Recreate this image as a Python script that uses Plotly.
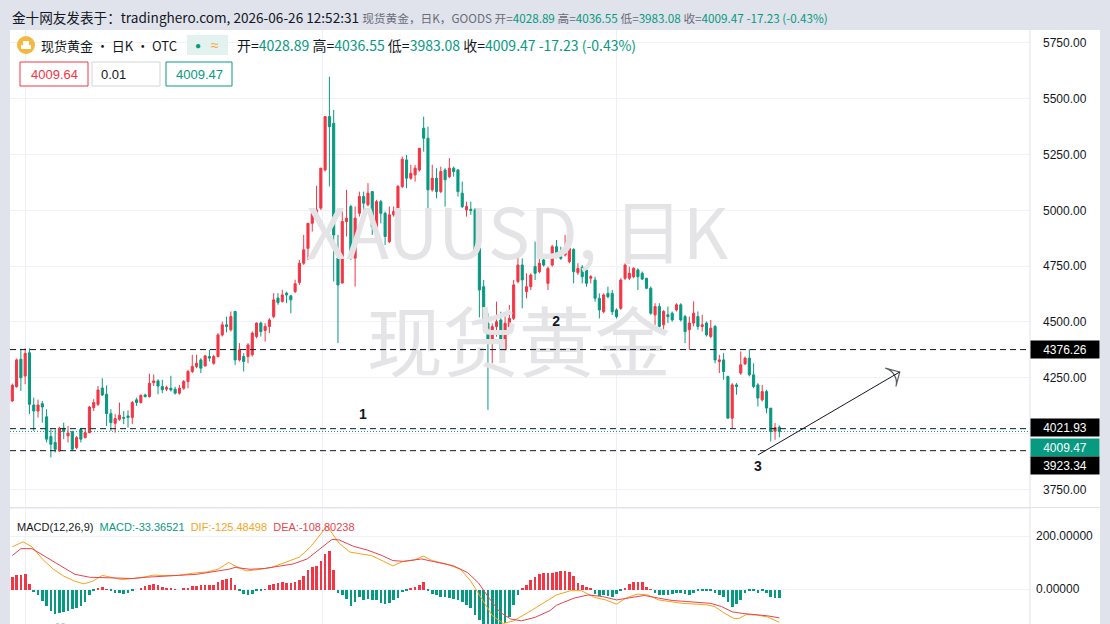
import plotly.graph_objects as go

RED = "#f23645"
GREEN = "#089981"
TXT = "#131722"

# ---------------- data ----------------
OPEN = [4146,4210,4333,4258,4362,4128,4101,4134,4075,3987,3960,3922,4024,3990,4008,3937,4019,3982,4004,4116,
        4131,4204,4176,4089,4046,4064,4072,4079,4072,4151,4139,4173,4166,4228,4236,4211,4199,4203,4199,4181,
        4203,4233,4278,4300,4330,4303,4345,4315,4345,4442,4487,4465,4547,4330,4345,4345,4353,4435,4495,4462,
        4480,4524,4607,4592,4629,4617,4636,4677,4763,4830,4942,4987,5010,5181,5420,5390,4786,4674,4950,5017,
        4786,4987,5062,5025,5084,4927,5039,4987,4860,4980,4995,5107,5226,5144,5159,5181,5368,5323,5092,5144,
        5084,5181,5151,5189,5181,5077,5002,5005,5002,4830,4658,4494,4412,4479,4509,4375,4479,4516,4681,4755,
        4636,4658,4748,4725,4778,4673,4755,4837,4793,4800,4770,4825,4721,4745,4733,4696,4688,4606,4546,4628,
        4628,4554,4561,4696,4696,4703,4733,4718,4696,4651,4532,4569,4487,4532,4539,4554,4577,4524,4465,4495,
        4524,4480,4495,4435,4480,4323,4330,4256,4069,4218,4271,4312,4338,4263,4218,4151,4188,4114,4010,4028.89]
HIGH = [4224,4336,4380,4382,4382,4161,4152,4146,4109,4019,4019,4030,4049,4034,4012,3990,4022,4022,4124,4154,
        4213,4248,4216,4109,4087,4139,4101,4104,4146,4161,4176,4179,4268,4265,4243,4241,4215,4259,4210,4218,
        4240,4286,4353,4353,4338,4353,4375,4353,4450,4502,4524,4547,4549,4405,4360,4405,4457,4498,4502,4495,
        4517,4629,4629,4644,4636,4621,4689,4778,4890,4942,4995,5110,5189,5420,5599,5450,4890,4995,5092,5025,
        5017,5084,5084,5122,5084,5047,5047,4995,5017,5017,5114,5241,5248,5204,5204,5278,5420,5375,5204,5189,
        5196,5189,5234,5196,5184,5129,5039,5039,5010,4867,4688,4539,4494,4591,4546,4539,4576,4688,4793,4785,
        4718,4718,4860,4785,4800,4748,4845,4867,4837,4890,4837,4830,4763,4755,4740,4710,4703,4628,4628,4658,
        4643,4561,4696,4763,4748,4745,4740,4726,4696,4659,4584,4584,4554,4569,4547,4584,4584,4532,4524,4592,
        4547,4532,4502,4509,4487,4353,4360,4259,4226,4226,4368,4345,4378,4315,4226,4218,4196,4114,4047,4036.55]
LOW = [4142,4206,4191,4221,4087,4012,4072,4049,3960,3893,3915,3918,3975,3960,3925,3930,3960,3978,4002,4101,
       4124,4168,4034,4012,4004,4057,4042,4027,4042,4124,4134,4161,4161,4213,4176,4181,4190,4188,4175,4174,
       4196,4203,4271,4293,4271,4300,4323,4308,4341,4435,4453,4457,4308,4323,4278,4315,4345,4427,4435,4412,
       4450,4517,4577,4587,4584,4539,4629,4666,4756,4778,4905,4980,5002,5174,5107,4681,4405,4674,4883,4778,
       4659,4972,4987,5017,4890,4890,4942,4845,4853,4972,4987,5099,5099,5137,5129,5174,5263,4995,5084,5054,
       5077,5017,5144,5151,5062,5010,4972,4980,4808,4520,4479,4106,4315,4434,4360,4372,4472,4509,4673,4561,
       4606,4643,4688,4718,4748,4643,4748,4785,4778,4793,4763,4673,4710,4673,4658,4673,4591,4516,4539,4606,
       4531,4516,4554,4688,4688,4696,4643,4689,4647,4532,4487,4465,4457,4495,4502,4547,4502,4405,4375,4480,
       4465,4457,4435,4427,4315,4271,4241,4069,4024,4174,4263,4308,4256,4203,4121,4144,4091,3965,3972,3983.08]
CLOSE = [4216,4330,4250,4359,4131,4101,4128,4119,3975,3952,3930,4024,4009,4002,3930,3982,3975,4004,4119,4139,
         4195,4173,4089,4049,4067,4082,4069,4072,4139,4139,4171,4166,4225,4236,4213,4196,4206,4196,4181,4203,
         4233,4278,4300,4315,4293,4348,4338,4345,4442,4487,4480,4524,4330,4375,4323,4397,4450,4495,4457,4480,
         4509,4599,4587,4621,4621,4599,4671,4763,4823,4942,4987,5002,5189,5420,5375,4890,4666,4950,4965,4786,
         4965,5062,5032,5077,4927,5039,4987,4883,4980,4995,5107,5229,5144,5166,5189,5278,5323,5092,5144,5084,
         5174,5137,5189,5174,5084,5017,5017,4999,4816,4643,4494,4404,4479,4501,4375,4494,4516,4666,4755,4688,
         4658,4710,4718,4763,4755,4740,4837,4793,4785,4830,4830,4725,4740,4703,4673,4703,4606,4554,4621,4613,
         4546,4524,4688,4755,4718,4740,4703,4692,4651,4539,4569,4480,4547,4524,4509,4577,4509,4457,4495,4539,
         4480,4487,4442,4472,4330,4330,4278,4069,4218,4211,4308,4338,4263,4211,4159,4188,4114,4009,4026.7,4009.47]

MACD_HIST = [49,56,56,59,23,-9,-22,-42,-61,-80,-94,-87,-84,-80,-74,-70,-62,-45,-22,-5,
             5,10,2,-6,-11,-11,-16,-11,-3,0,4,12,19,20,17,10,7,4,2,0,
             3,8,13,15,17,17,17,17,30,36,40,43,17,-6,-16,-22,-16,-6,-2,1,
             17,20,26,27,25,24,28,35,52,76,85,90,110,134,147,75,-12,-22,-35,-61,
             -48,-28,-40,-35,-38,-41,-50,-54,-50,-40,-30,-10,-2,4,10,17,30,-2,-16,-22,
             -28,-28,-32,-35,-40,-47,-58,-68,-95,-115,-130,-137,-140,-137,-133,-125,-103,-60,-21,6,
             17,36,49,58,62,62,62,68,70,70,68,52,26,18,9,4,-15,-23,-22,-24,
             -29,-15,-5,6,20,29,29,27,10,1,-11,-22,-19,-22,-17,-11,-13,-15,-19,-11,
             -6,-6,-3,-6,-11,-22,-28,-47,-66,-54,-41,-11,-6,-6,-11,-6,-11,-28,-32,-33.37]

DIF_X = [0,2.5,4.6,7,9.6,12,14.6,16.7,18.8,21,23,25.5,28,30.5,33,35.5,38.8,42,45.5,48,
         50.5,52,54.6,57,60.5,63.8,67,69.6,72,73.4,74.6,76.3,78.8,81.3,83.8,86.3,88.8,91.3,93.8,95.9,
         98,101.3,104.6,107,109.6,112,114.6,117,120.5,123.8,127,130.3,132.8,136,138.5,141,143.4,145.9,148.3,150.8,
         153.2,156.5,159.8,162.2,163.9,166.3,168.4,169.6,171.3,173.7,176.2,179]
DIF_Y = [160,179,160,114,75,49,30,20,30,52,45,36,40,45,53,51,52,60,65,75,
         101,88,69,73,82,101,121,160,212,238,212,173,140,134,127,108,88,105,110,125,
         108,95,75,30,-35,-100,-130,-120,-87,-55,-22,-6,-6,-32,-41,-57,-32,-19,-22,-41,
         -47,-54,-57,-60,-66,-92,-111,-111,-96,-98,-105,-125.48]
DEA_X = [0,2,4.6,8,11.3,14.6,18,21.3,24.6,28,31.3,34.6,38.8,43,47,50.5,52,55.5,58.8,62,
         65.5,68.8,72,74.6,76.3,79.6,83,86.3,88.8,91.3,95.5,99.6,103,106.3,108.8,111.3,113.8,116.3,118.8,122,
         125.5,127,131.1,134.4,137.7,141,144.2,147.5,150.8,154,157.4,160.6,163,165.5,168,170.4,173.7,176.2,179]
DEA_Y = [127,153,153,121,88,56,45,43,40,40,45,49,52,56,65,75,82,75,78,86,
         95,114,153,188,186,162,147,127,108,105,114,101,88,62,23,-35,-87,-113,-120,-107,
         -81,-61,-34,-22,-28,-41,-34,-24,-34,-43,-47,-50,-54,-66,-86,-92,-96,-101,-108.8]

LEVELS = [4376.26, 4021.93, 3923.34]
LAST_PRICE = 4009.47
PRICE_TICKS = [3750, 4000, 4250, 4500, 4750, 5000, 5250, 5500, 5750]
# the 4000.00 label is hidden behind the price tags in the original
PRICE_TICK_TEXT = ["3750.00", "", "4250.00", "4500.00", "4750.00", "5000.00", "5250.00", "5500.00", "5750.00"]
MACD_TICKS = [0, 200]
WAVE_LABELS = ["1", "2", "3"]
WAVE_X = [81.8, 126.9, 174.0]
WAVE_Y = [4079, 4496, 3846]
ARROW_X = [174.0, 207.1]
ARROW_Y = [3904, 4276]

FONT = "Liberation Sans, Arial, Noto Sans CJK SC, sans-serif"
CJK = "Noto Sans CJK SC, Liberation Sans, sans-serif"

# page geometry helpers (plot area: x 10..1030, y 30..624)
def px(x):
    return (x - 10) / 1020.0

def py(y):
    return (624 - y) / 594.0

idx = list(range(len(OPEN)))
fig = go.Figure()

# watermark (drawn below candles)
fig.add_trace(go.Scatter(x=[117.8], y=[4862], mode="text", text=["XAUUSD, 日K"],
                         textfont=dict(family=CJK, size=70, color="#e4e4e6"),
                         hoverinfo="skip", showlegend=False))
fig.add_trace(go.Scatter(x=[118.2], y=[4366], mode="text", text=["现货黄金"],
                         textfont=dict(family=CJK, size=76, color="#e4e4e6"),
                         hoverinfo="skip", showlegend=False))

fig.add_trace(go.Candlestick(
    x=idx, open=OPEN, high=HIGH, low=LOW, close=CLOSE,
    increasing=dict(line=dict(color=RED, width=1), fillcolor=RED),
    decreasing=dict(line=dict(color=GREEN, width=1), fillcolor=GREEN),
    whiskerwidth=0, showlegend=False, hoverinfo="skip", xaxis="x", yaxis="y"))

fig.add_trace(go.Bar(x=idx, y=MACD_HIST, width=0.62,
                     marker=dict(color=[RED if v > 0 else GREEN for v in MACD_HIST], line=dict(width=0)),
                     xaxis="x", yaxis="y2", showlegend=False, hoverinfo="skip"))
fig.add_trace(go.Scatter(x=DIF_X, y=DIF_Y, mode="lines", line=dict(color="#f7a21b", width=1),
                         xaxis="x", yaxis="y2", showlegend=False, hoverinfo="skip"))
fig.add_trace(go.Scatter(x=DEA_X, y=DEA_Y, mode="lines", line=dict(color="#e8434e", width=1),
                         xaxis="x", yaxis="y2", showlegend=False, hoverinfo="skip"))

# arrow
fig.add_trace(go.Scatter(x=ARROW_X, y=ARROW_Y, mode="lines+markers",
                         line=dict(color=TXT, width=1),
                         marker=dict(symbol=["circle", "arrow-wide-open"], size=[1, 15], angleref="previous",
                                     color=TXT, line=dict(color=TXT, width=1.2)),
                         showlegend=False, hoverinfo="skip", xaxis="x", yaxis="y"))

fig.add_trace(go.Scatter(x=WAVE_X, y=WAVE_Y, mode="text", text=WAVE_LABELS,
                         textfont=dict(family=FONT, size=14, color=TXT),
                         texttemplate="<b>%{text}</b>",
                         showlegend=False, hoverinfo="skip", xaxis="x", yaxis="y"))

shapes = []
annotations = []

# white panel behind price axis
shapes.append(dict(type="rect", xref="paper", yref="paper", x0=1, x1=px(1100), y0=0, y1=1,
                   fillcolor="white", line=dict(width=0), layer="below"))
# axis separator lines
shapes.append(dict(type="line", xref="paper", yref="paper", x0=1, x1=1, y0=0, y1=1,
                   line=dict(color="#e0e3eb", width=1)))
shapes.append(dict(type="line", xref="paper", yref="paper", x0=0, x1=px(1100), y0=py(507.5), y1=py(507.5),
                   line=dict(color="#e0e3eb", width=1)))

for lv in LEVELS:
    shapes.append(dict(type="line", xref="paper", yref="y", x0=0, x1=1, y0=lv, y1=lv,
                       line=dict(color=TXT, width=1, dash="6px,4px")))
shapes.append(dict(type="line", xref="paper", yref="y", x0=0, x1=1, y0=LAST_PRICE, y1=LAST_PRICE,
                   line=dict(color=GREEN, width=1, dash="1px,2px")))

# right side price tags (stacked like the original)
tags = [(LEVELS[0], "#000000", 0), (LEVELS[1], "#000000", 1), (LAST_PRICE, GREEN, -16.5),
        (LEVELS[2], "#000000", -15)]
for val, col, shift in tags:
    annotations.append(dict(xref="paper", yref="y", x=1, y=val, xanchor="left", yanchor="middle",
                            yshift=shift, text=f"{val:.2f}", showarrow=False,
                            font=dict(family=FONT, size=12, color="white"),
                            bgcolor=col, width=64, height=13, borderpad=2, align="center"))

# header line
VAL = GREEN
GR = "#6a6d78"
S = "font-size:11.7px"
header = ("金十网友发表于：tradinghero.com, 2026-06-26 12:52:31 "
          f"<span style='{S};color:{GR}'>现货黄金，日K，GOODS 开=</span>"
          f"<span style='{S};color:{VAL}'>4028.89</span>"
          f"<span style='{S};color:{GR}'> 高=</span>"
          f"<span style='{S};color:{VAL}'>4036.55</span>"
          f"<span style='{S};color:{GR}'> 低=</span>"
          f"<span style='{S};color:{VAL}'>3983.08</span>"
          f"<span style='{S};color:{GR}'> 收=</span>"
          f"<span style='{S};color:{VAL}'>4009.47 -17.23 (-0.43%)</span>")
annotations.append(dict(xref="paper", yref="paper", x=px(10), y=py(17), xanchor="left", yanchor="middle",
                        text=header, showarrow=False, font=dict(family=CJK, size=13.6, color=TXT)))

# legend row
shapes.append(dict(type="circle", xref="paper", yref="paper", x0=px(17), x1=px(35), y0=py(54), y1=py(36),
                   fillcolor="#f4b73f", line=dict(width=0)))
shapes.append(dict(type="rect", xref="paper", yref="paper", x0=px(21), x1=px(31), y0=py(49), y1=py(45),
                   fillcolor="white", line=dict(width=0)))
shapes.append(dict(type="rect", xref="paper", yref="paper", x0=px(23), x1=px(29), y0=py(45), y1=py(41),
                   fillcolor="white", line=dict(width=0)))
annotations.append(dict(xref="paper", yref="paper", x=px(39), y=py(45), xanchor="left", yanchor="middle",
                        text="现货黄金 • 日K • OTC", showarrow=False, font=dict(family=CJK, size=13, color=TXT)))
shapes.append(dict(type="rect", xref="paper", yref="paper", x0=px(187), x1=px(228), y0=py(55), y1=py(35),
                   fillcolor="#e3f2ee", line=dict(width=0)))
annotations.append(dict(xref="paper", yref="paper", x=px(198), y=py(45), xanchor="center", yanchor="middle",
                        text="●", showarrow=False, font=dict(family=FONT, size=10, color=GREEN)))
annotations.append(dict(xref="paper", yref="paper", x=px(215), y=py(45), xanchor="center", yanchor="middle",
                        text="≈", showarrow=False, font=dict(family=FONT, size=14, color="#f4a53a")))
ohlc = (f"开=<span style='color:{VAL}'>4028.89</span> 高=<span style='color:{VAL}'>4036.55</span> "
        f"低=<span style='color:{VAL}'>3983.08</span> 收=<span style='color:{VAL}'>4009.47</span> "
        f"<span style='color:{VAL}'>-17.23 (-0.43%)</span>")
annotations.append(dict(xref="paper", yref="paper", x=px(235), y=py(45), xanchor="left", yanchor="middle",
                        text=ohlc, showarrow=False, font=dict(family=CJK, size=14, color=TXT)))

# buy / qty / sell boxes
boxes = [(20, 88, RED, "4009.64", RED), (92, 160, "#d1d4dc", "0.01", TXT), (166, 232, GREEN, "4009.47", GREEN)]
for x0, x1, bc, t, tc in boxes:
    shapes.append(dict(type="rect", xref="paper", yref="paper", x0=px(x0), x1=px(x1), y0=py(86), y1=py(62),
                       fillcolor="white", line=dict(color=bc, width=1)))
    if t == "0.01":
        annotations.append(dict(xref="paper", yref="paper", x=px(x0 + 7), y=py(74), xanchor="left",
                                yanchor="middle", text=t, showarrow=False,
                                font=dict(family=FONT, size=13, color=tc)))
    else:
        annotations.append(dict(xref="paper", yref="paper", x=px((x0 + x1) / 2), y=py(74), xanchor="center",
                                yanchor="middle", text=t, showarrow=False,
                                font=dict(family=FONT, size=13, color=tc)))

# MACD legend
macd_leg = ("MACD(12,26,9)  "
            f"<span style='color:{GREEN}'>MACD:-33.36521</span>  "
            "<span style='color:#f5a623'>DIF:-125.48498</span>  "
            "<span style='color:#e8434e'>DEA:-108.80238</span>")
annotations.append(dict(xref="paper", yref="paper", x=px(15), y=py(527), xanchor="left", yanchor="middle",
                        text=macd_leg, showarrow=False, font=dict(family=FONT, size=11, color=TXT)))

# bottom-left logo (cropped by the page edge, as in the original)
annotations.append(dict(xref="paper", yref="paper", x=px(16), y=py(618), xanchor="left", yanchor="top",
                        text="<b>TradingHero</b>", showarrow=False,
                        font=dict(family=FONT, size=20, color="#c3c5cc")))

fig.update_layout(
    width=1110, height=624,
    margin=dict(l=10, r=80, t=30, b=0),
    paper_bgcolor="#e0e3eb", plot_bgcolor="white",
    showlegend=False, bargap=0,
    font=dict(family=FONT, size=12, color=TXT),
    xaxis=dict(domain=[0, 1], range=[-0.54, 237.5], anchor="y2", showticklabels=False,
               tickvals=[3, 72.3, 141.1], showgrid=True, gridcolor="#eef0f5", zeroline=False,
               rangeslider=dict(visible=False), showline=False, ticks=""),
    yaxis=dict(domain=[py(507), 1], range=[3671, 5808], side="right", anchor="x",
               tickvals=PRICE_TICKS, ticktext=PRICE_TICK_TEXT, showgrid=True, gridcolor="#f0f2f7",
               zeroline=False, ticks="", ticklabelstandoff=12,
               tickfont=dict(family=FONT, size=12, color=TXT)),
    yaxis2=dict(domain=[0, py(508.5)], range=[-132, 305], side="right", anchor="x",
                tickvals=MACD_TICKS, tickformat=".5f", showgrid=True, gridcolor="#f0f2f7",
                zeroline=False, ticks="", ticklabelstandoff=5,
                tickfont=dict(family=FONT, size=12, color=TXT)),
    shapes=shapes, annotations=annotations,
)

fig.write_html("out.html")
